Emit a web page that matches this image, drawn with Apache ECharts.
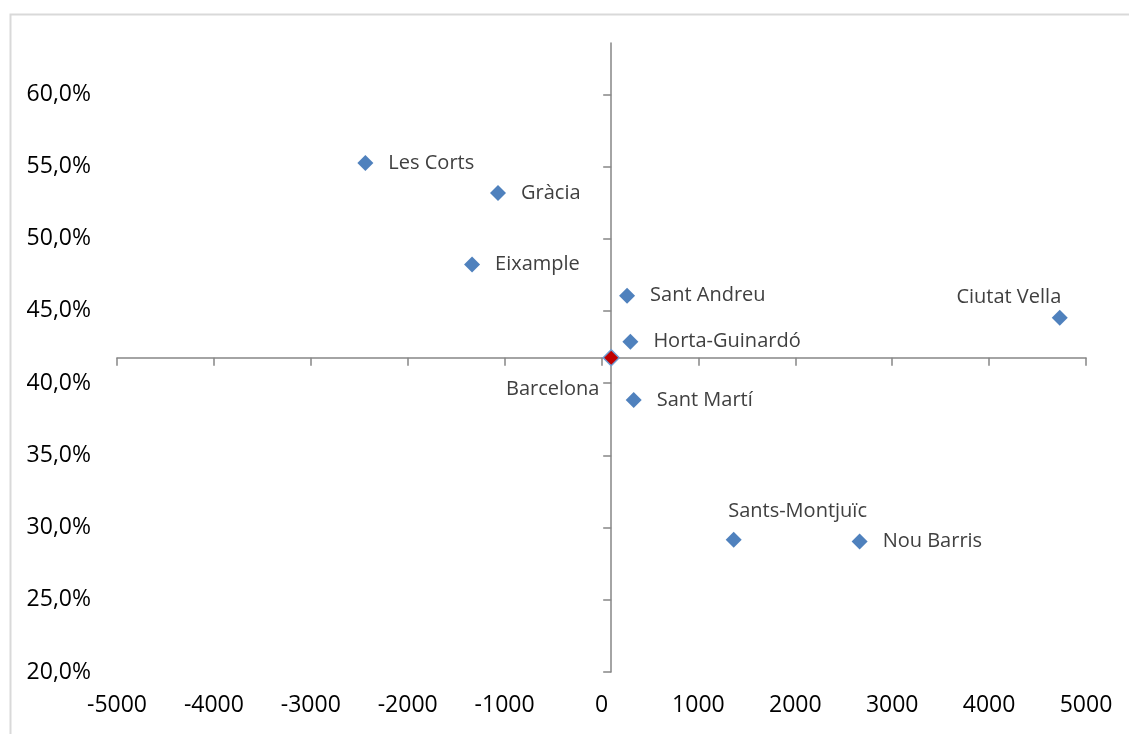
<!DOCTYPE html>
<html>
<head>
<meta charset="utf-8">
<script src="https://cdn.jsdelivr.net/npm/echarts@6/dist/echarts.min.js"></script>
<style>
html,body{margin:0;padding:0;background:#fff;}
#chart{width:1129px;height:734px;}
</style>
</head>
<body>
<div id="chart"></div>
<script>
// ---- data ----
const names = ['Les Corts','Gràcia','Eixample','Sant Andreu','Horta-Guinardó','Barcelona','Sant Martí','Ciutat Vella','Sants-Montjuïc','Nou Barris'];
const xVals = [-2437, -1068, -1336, 264, 298, 100, 332, 4729, 1364, 2664];
const yVals = [0.5525, 0.5317, 0.4822, 0.4605, 0.4287, 0.4176, 0.3883, 0.4453, 0.2915, 0.2903];
const xTicks = [-5000,-4000,-3000,-2000,-1000,0,1000,2000,3000,4000,5000];
const yTicks = [0.20,0.25,0.30,0.35,0.40,0.45,0.50,0.55,0.60];
const referenceName = 'Barcelona';

// ---- axis ranges ----
const xMin = -5000, xMax = 5000, xStep = 1000;
const yMin = 0.20, yMax = 0.6355, yStep = 0.05;
const refIdx = names.indexOf(referenceName);
const refX = xVals[refIdx], refY = yVals[refIdx];

// ---- label styles (per point) ----
const FONT = '"Open Sans", "Liberation Sans", sans-serif';
const labelStyle = {
  'Ciutat Vella':   { position: [9.5, -12], align: 'right', verticalAlign: 'middle' },
  'Sants-Montjuïc': { position: [2.5, -21], align: 'left',  verticalAlign: 'middle' },
  'Barcelona':      { position: [-3, 40],   align: 'right', verticalAlign: 'middle' }
};

const data = names.map((n, i) => {
  const item = { name: n, value: [xVals[i], yVals[i]] };
  if (labelStyle[n]) item.label = labelStyle[n];
  if (n === referenceName) {
    item.itemStyle = { color: '#c00000', borderColor: '#6f9bd1', borderWidth: 1.5, opacity: 1 };
  }
  return item;
});

const pctFmt = v => (v * 100).toFixed(1).replace('.', ',') + '%';
const numFmt = v => String(v);

const chart = echarts.init(document.getElementById('chart'), null, { renderer: 'canvas' });
chart.setOption({
  animation: false,
  backgroundColor: '#ffffff',
  textStyle: { fontFamily: FONT },
  graphic: [{
    type: 'rect', left: 8, top: 12, silent: true,
    shape: { width: 1140, height: 740 },
    style: { fill: 'none', stroke: '#d9d9d9', lineWidth: 2 }
  }],
  grid: { left: 117, right: 43, top: 43, bottom: 62, containLabel: false },
  xAxis: [
    { // labels at the bottom
      type: 'value', min: xMin, max: xMax, interval: xStep, position: 'bottom',
      axisLine: { show: false, onZero: false }, axisTick: { show: false }, splitLine: { show: false },
      axisLabel: { color: '#000', fontSize: 23, margin: 22, fontFamily: FONT, formatter: numFmt, customValues: xTicks }
    },
    { // crossing horizontal line
      type: 'value', min: xMin, max: xMax, interval: xStep, position: 'bottom',
      axisLine: { show: true, onZero: true, onZeroAxisIndex: 1, lineStyle: { color: '#868686', width: 1.5 } },
      axisTick: { show: true, inside: false, length: 8, lineStyle: { color: '#868686', width: 1.5 }, customValues: xTicks },
      axisLabel: { show: false }, splitLine: { show: false }
    },
    { // hidden shifted axis so vertical line crosses at reference x
      type: 'value', show: false, min: xMin - refX, max: xMax - refX,
      axisLine: { onZero: false }, splitLine: { show: false }
    }
  ],
  yAxis: [
    { // labels at the left
      type: 'value', min: yMin, max: yMax, interval: yStep, position: 'left',
      axisLine: { show: false, onZero: false }, axisTick: { show: false }, splitLine: { show: false },
      axisLabel: { color: '#000', fontSize: 23, margin: 26, fontFamily: FONT, formatter: pctFmt, customValues: yTicks }
    },
    { // hidden shifted axis so horizontal line crosses at reference y
      type: 'value', show: false, min: yMin - refY, max: yMax - refY,
      axisLine: { onZero: false }, splitLine: { show: false }
    },
    { // crossing vertical line
      type: 'value', min: yMin, max: yMax, interval: yStep, position: 'left',
      axisLine: { show: true, onZero: true, onZeroAxisIndex: 2, lineStyle: { color: '#868686', width: 1.5 } },
      axisTick: { show: true, inside: false, length: 8, lineStyle: { color: '#868686', width: 1.5 }, customValues: yTicks },
      axisLabel: { show: false }, splitLine: { show: false }
    }
  ],
  series: [{
    type: 'scatter',
    xAxisIndex: 0, yAxisIndex: 0,
    symbol: 'diamond', symbolSize: 16,
    itemStyle: { color: '#4f81bd', opacity: 1 },
    label: {
      show: true, position: 'right', distance: 15,
      formatter: p => p.name,
      color: '#404040', fontSize: 20, fontFamily: FONT
    },
    data: data,
    z: 5
  }]
});
</script>
</body>
</html>
